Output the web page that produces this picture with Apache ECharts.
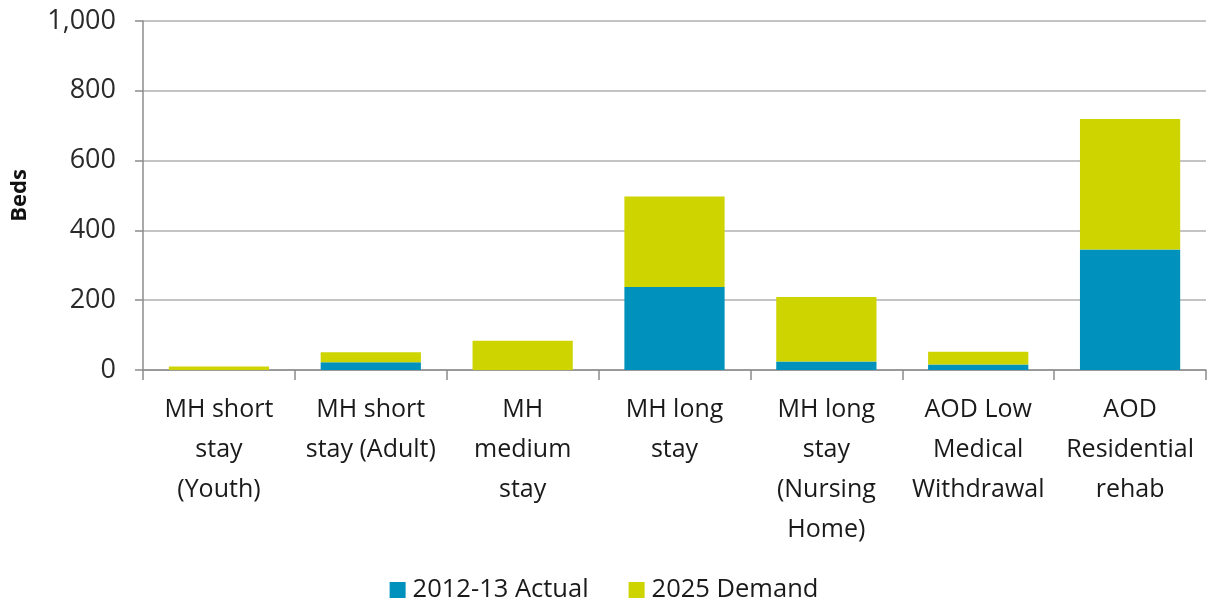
<!DOCTYPE html>
<html>
<head>
<meta charset="utf-8">
<script src="https://cdn.jsdelivr.net/npm/echarts@6/dist/echarts.min.js"></script>
<style>
  html, body { margin: 0; padding: 0; background: #fff; }
  #chart-container { width: 1208px; height: 605px; }
</style>
</head>
<body>
<div id="chart-container"></div>
<script>
const categories = [
  "MH short\nstay\n(Youth)",
  "MH short\nstay (Adult)",
  "MH\nmedium\nstay",
  "MH long\nstay",
  "MH long\nstay\n(Nursing\nHome)",
  "AOD Low\nMedical\nWithdrawal",
  "AOD\nResidential\nrehab",
];
const actual = [0, 22, 0, 238, 24, 16, 345];
const demand = [10, 29, 84, 259, 185, 36, 374];
const yTicks = [0, 200, 400, 600, 800, 1000];

(() => {
  var dom = document.getElementById("chart-container");
  var chart = echarts.init(dom, null, { renderer: "canvas" });
  const font = "'Open Sans', sans-serif";
  const option = {
    animation: false,
    textStyle: { fontFamily: font },
    grid: { left: 143, right: 2, top: 21, bottom: 235 },
    legend: {
      bottom: -3,
      left: "center",
      itemWidth: 16,
      itemHeight: 16,
      itemGap: 40,
      icon: "rect",
      textStyle: { fontSize: 25.5, color: "#1a1a1a", fontFamily: font, padding: [0, 0, 0, 2] },
      data: ["2012-13 Actual", "2025 Demand"],
    },
    xAxis: {
      type: "category",
      data: categories,
      axisLine: { lineStyle: { color: "#8c8c8c", width: 1.5 } },
      axisTick: { show: true, length: 10, lineStyle: { color: "#8c8c8c", width: 1.5 } },
      axisLabel: {
        fontSize: 25,
        color: "#1a1a1a",
        lineHeight: 40,
        margin: 20,
        interval: 0,
      },
    },
    yAxis: {
      type: "value",
      min: yTicks[0],
      max: yTicks[yTicks.length - 1],
      interval: 200,
      name: "Beds",
      nameLocation: "middle",
      nameGap: 112,
      nameRotate: 90,
      nameTextStyle: { fontSize: 22, fontWeight: "bold", color: "#111" },
      axisLine: { show: true, lineStyle: { color: "#8c8c8c", width: 1.5 } },
      axisTick: { show: true, length: 8, lineStyle: { color: "#8c8c8c", width: 1.5 } },
      splitLine: { lineStyle: { color: "#b0b0b0", width: 1.5 } },
      axisLabel: {
        fontSize: 27,
        color: "#2a2a2a",
        margin: 27,
        formatter: (v) => v.toLocaleString("en-US"),
      },
    },
    series: [
      {
        name: "2012-13 Actual",
        type: "bar",
        stack: "beds",
        barCategoryGap: "34%",
        data: actual,
        itemStyle: { color: "#0092bd" },
      },
      {
        name: "2025 Demand",
        type: "bar",
        stack: "beds",
        barCategoryGap: "34%",
        data: demand,
        itemStyle: { color: "#cdd400" },
      },
    ],
  };
  chart.setOption(option);
  window.addEventListener("resize", chart.resize);
})();
</script>
</body>
</html>
